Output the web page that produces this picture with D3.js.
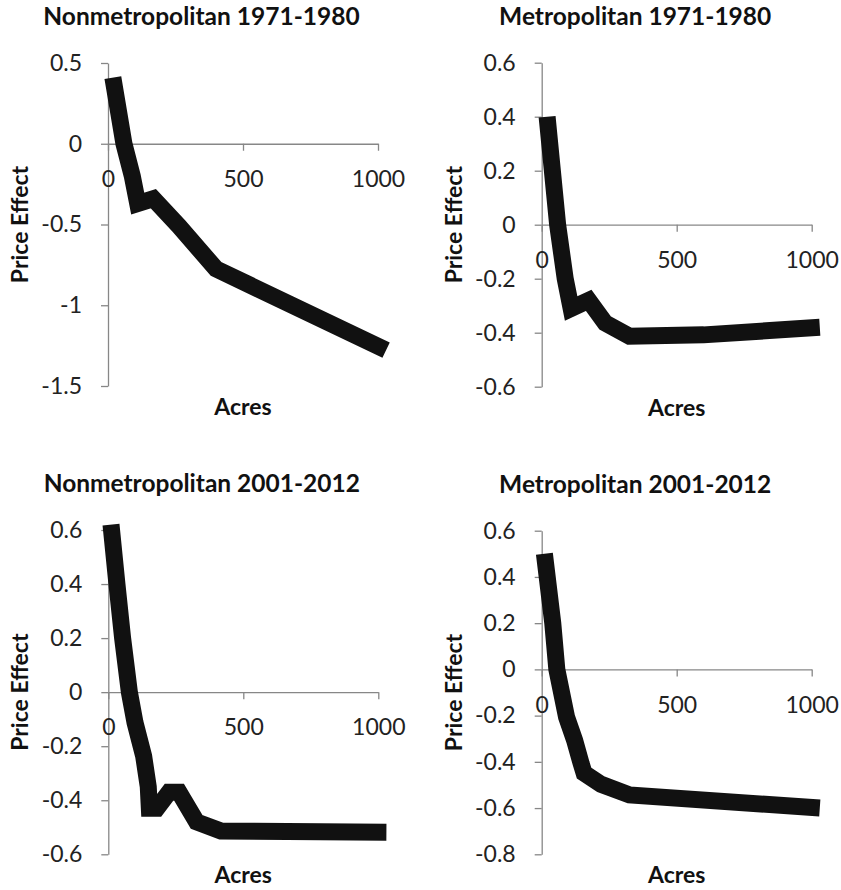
<!DOCTYPE html>
<html lang="en">
<head>
<meta charset="utf-8">
<title>Price Effect by Acres</title>
<script src="https://d3js.org/d3.v7.min.js"></script>
<style>
  body { margin: 0; background: white; }
  svg text { font-family: Lato, "Open Sans", sans-serif; }
  .axis path, .axis line { stroke: #878787; stroke-width: 1.3; }
  .axis text { fill: #222; font-size: 23px; }
  .title, .axis-title { fill: #111; font-weight: bold; }
</style>
</head>
<body>
<script>
// values (acres -> price effect)
const nonmetro7180Acres  = [18, 59, 90, 110, 168, 263, 400, 1030];
const nonmetro7180Effect = [0.41, 0, -0.2, -0.37, -0.34, -0.51, -0.775, -1.278];

const metro7180Acres  = [20, 59, 87, 109, 174, 235, 325, 600, 1030];
const metro7180Effect = [0.4, 0, -0.2, -0.31, -0.28, -0.364, -0.413, -0.408, -0.38];

const nonmetro0112Acres  = [10, 32, 53, 78, 99, 131, 148, 152, 180, 225, 262, 327, 417, 1030];
const nonmetro0112Effect = [0.62, 0.4, 0.2, 0, -0.113, -0.237, -0.35, -0.43, -0.43, -0.37, -0.37, -0.48, -0.514, -0.518];

const metro0112Acres  = [10, 41, 56, 92, 122, 146, 157, 220, 325, 1030];
const metro0112Effect = [0.5, 0.2, 0, -0.206, -0.307, -0.407, -0.449, -0.497, -0.543, -0.6];

const xTicks = [0, 500, 1000];
const nonmetro7180Ticks = [0.5, 0, -0.5, -1, -1.5];
const metro7180Ticks    = [0.6, 0.4, 0.2, 0, -0.2, -0.4, -0.6];
const nonmetro0112Ticks = [0.6, 0.4, 0.2, 0, -0.2, -0.4, -0.6];
const metro0112Ticks    = [0.6, 0.4, 0.2, 0, -0.2, -0.4, -0.6, -0.8];

const titles = ["Nonmetropolitan 1971-1980", "Metropolitan 1971-1980",
                "Nonmetropolitan 2001-2012", "Metropolitan 2001-2012"];

const SvgWidth = 841
const SvgHeight = 890
const PlotWidth = 270

// where each plot area sits on the page
const panels = [
  {title: titles[0], acres: nonmetro7180Acres, effect: nonmetro7180Effect, ticks: nonmetro7180Ticks, left: 108,   top: 63,    bottom: 386},
  {title: titles[1], acres: metro7180Acres,    effect: metro7180Effect,    ticks: metro7180Ticks,    left: 541.7, top: 62.7,  bottom: 386.7},
  {title: titles[2], acres: nonmetro0112Acres, effect: nonmetro0112Effect, ticks: nonmetro0112Ticks, left: 108.3, top: 530,   bottom: 854.3},
  {title: titles[3], acres: metro0112Acres,    effect: metro0112Effect,    ticks: metro0112Ticks,    left: 541.7, top: 530.7, bottom: 854.3}
];

const svg = d3.select("body").append("svg")
    .attr("width", SvgWidth)
    .attr("height", SvgHeight)

svg.append("rect")
    .attr("width", SvgWidth)
    .attr("height", SvgHeight)
    .style("fill", "white")

panels.forEach(function(p){
    var yExtent = d3.extent(p.ticks);
    var xScale = d3.scaleLinear().domain([0, 1000]).range([p.left, p.left + PlotWidth]);
    var yScale = d3.scaleLinear().domain(yExtent).range([p.bottom, p.top]);

    var g = svg.append("g");

    // y axis
    g.append("g")
        .attr("class", "axis")
        .attr("transform", "translate(" + p.left + ",0)")
        .call(d3.axisLeft(yScale).tickValues(p.ticks).tickSize(7).tickSizeOuter(0).tickPadding(19)
              .tickFormat(function(d){ return String(d); }));

    // x axis crosses at zero
    g.append("g")
        .attr("class", "axis")
        .attr("transform", "translate(0," + yScale(0) + ")")
        .call(d3.axisBottom(xScale).tickValues(xTicks).tickSize(7).tickSizeOuter(0).tickPadding(20)
              .tickFormat(function(d){ return String(d); }));

    g.append("text")
        .attr("class", "title")
        .attr("x", p.left + 93.5)
        .attr("y", p.top - 38)
        .attr("text-anchor", "middle")
        .style("font-size", "24.5px")
        .text(p.title);

    g.append("text")
        .attr("class", "axis-title")
        .attr("transform", "translate(" + (p.left - 80) + "," + ((p.top + p.bottom) / 2) + ") rotate(-90)")
        .attr("text-anchor", "middle")
        .style("font-size", "23px")
        .text("Price Effect");

    g.append("text")
        .attr("class", "axis-title")
        .attr("x", p.left + PlotWidth / 2)
        .attr("y", p.bottom + 29)
        .attr("text-anchor", "middle")
        .style("font-size", "23px")
        .text("Acres");

    var line = d3.line()
        .x(function(d, i){ return xScale(p.acres[i]); })
        .y(function(d){ return yScale(d); });

    g.append("path")
        .datum(p.effect)
        .attr("d", line)
        .attr("fill", "none")
        .attr("stroke", "#111")
        .attr("stroke-width", 17)
        .attr("stroke-linejoin", "miter")
        .attr("stroke-linecap", "butt");
});
</script>
</body>
</html>
